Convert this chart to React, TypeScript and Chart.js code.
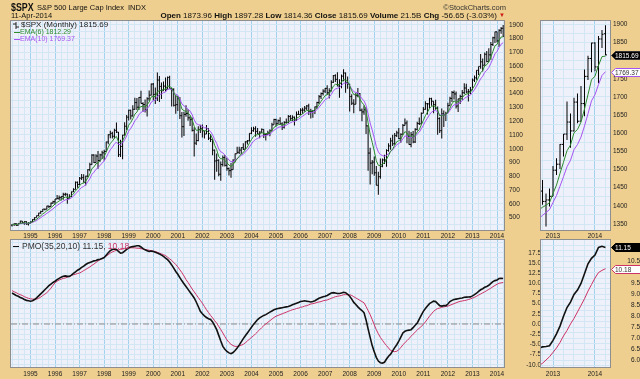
import React, { useEffect, useRef } from 'react';
import Chart from 'chart.js/auto';

// ---------------- DATA: $SPX monthly bars, Apr 1994 .. Apr 2014 ----------------
const FIRST_YEAR = 1994;
const FIRST_MONTH = 4;

const OPEN = [
  445.8, 450.9, 456.5, 444.3, 458.3, 475.5, 462.7, 472.4, 453.7,
  459.3, 470.4, 487.4, 500.7, 514.7, 533.4, 544.8, 562.1, 561.9, 584.4, 581.5, 605.4,
  615.9, 636.0, 640.4, 645.5, 654.2, 669.1, 670.6, 639.9, 652.0, 687.3, 705.3, 757.0,
  740.7, 786.2, 790.8, 757.1, 801.3, 848.3, 885.1, 954.3, 899.5, 947.3, 914.6, 955.4,
  970.4, 980.3, 1049.3, 1101.8, 1111.8, 1090.8, 1133.8, 1120.7, 957.3, 1017.0, 1098.7, 1163.6,
  1229.2, 1279.6, 1238.3, 1286.4, 1335.2, 1301.8, 1372.7, 1328.7, 1320.4, 1282.7, 1362.9, 1388.9,
  1469.3, 1394.5, 1366.4, 1498.6, 1452.4, 1420.6, 1454.6, 1430.8, 1517.7, 1436.5, 1429.4, 1315.2,
  1320.3, 1366.0, 1239.9, 1160.3, 1249.5, 1255.8, 1224.4, 1211.2, 1133.6, 1040.9, 1059.8, 1139.5,
  1148.1, 1130.2, 1106.7, 1147.4, 1076.9, 1067.1, 989.8, 911.6, 916.1, 815.3, 885.8, 936.3,
  879.8, 855.7, 841.2, 848.2, 916.9, 963.6, 974.5, 990.3, 1008.0, 996.0, 1050.7, 1058.2,
  1111.9, 1131.1, 1144.9, 1126.2, 1107.3, 1120.7, 1140.8, 1101.7, 1104.2, 1114.6, 1130.2, 1173.8,
  1211.9, 1181.3, 1203.6, 1180.6, 1156.9, 1191.5, 1191.3, 1234.2, 1220.3, 1228.8, 1207.0, 1249.5,
  1248.3, 1280.1, 1280.7, 1294.9, 1310.6, 1270.1, 1270.2, 1276.7, 1303.8, 1335.9, 1377.9, 1400.6,
  1418.3, 1438.2, 1406.8, 1420.9, 1482.4, 1530.6, 1503.4, 1455.3, 1474.0, 1526.8, 1549.4, 1481.1,
  1468.4, 1378.6, 1330.6, 1322.7, 1385.6, 1400.4, 1280.0, 1267.4, 1282.8, 1166.4, 968.8, 896.2,
  903.3, 825.9, 735.1, 797.9, 872.8, 919.1, 919.3, 987.5, 1020.6, 1057.1, 1036.2, 1095.6,
  1115.1, 1073.9, 1104.5, 1169.4, 1186.7, 1089.4, 1030.7, 1101.6, 1049.3, 1141.2, 1183.3, 1180.6,
  1257.6, 1286.1, 1327.2, 1325.8, 1363.6, 1345.2, 1320.6, 1292.3, 1218.9, 1131.4, 1253.3, 1247.0,
  1257.6, 1312.4, 1365.7, 1408.5, 1397.9, 1310.3, 1362.2, 1379.3, 1406.6, 1440.7, 1412.2, 1416.2,
  1426.2, 1498.1, 1514.7, 1569.2, 1597.6, 1630.7, 1606.3, 1685.7, 1633.0, 1681.6, 1756.5, 1805.8,
  1848.4, 1782.6, 1859.5, 1873.96,
];

const HIGH = [
  453.0, 457.6, 462.1, 459.3, 477.1, 476.1, 473.8, 474.7, 466.4,
  472.8, 489.2, 503.9, 515.3, 535.0, 551.1, 563.8, 565.6, 586.6, 587.2, 609.5, 622.9,
  636.2, 664.2, 661.4, 656.4, 681.1, 680.3, 675.9, 670.7, 690.9, 714.1, 762.1, 761.8,
  794.7, 817.7, 814.9, 804.2, 851.9, 898.7, 961.0, 960.3, 960.5, 983.1, 963.1, 986.3,
  992.7, 1051.2, 1105.7, 1130.5, 1123.0, 1145.2, 1190.6, 1121.0, 1066.1, 1102.0, 1193.0, 1244.9,
  1283.3, 1283.3, 1316.2, 1370.5, 1367.6, 1375.0, 1420.3, 1337.6, 1357.2, 1373.2, 1422.0, 1473.1,
  1478.0, 1444.6, 1552.9, 1527.2, 1481.5, 1488.9, 1517.3, 1525.2, 1530.1, 1441.5, 1438.5, 1389.1,
  1383.4, 1376.4, 1267.4, 1269.3, 1315.9, 1286.6, 1239.8, 1226.3, 1155.4, 1110.6, 1163.4, 1173.6,
  1176.6, 1130.2, 1173.0, 1147.8, 1106.6, 1070.7, 994.5, 965.0, 924.0, 907.4, 951.6, 954.3,
  935.1, 864.6, 895.9, 924.2, 965.4, 1015.3, 1015.4, 1011.0, 1040.3, 1053.8, 1063.7, 1112.6,
  1155.4, 1159.0, 1163.2, 1150.6, 1127.7, 1146.3, 1140.8, 1108.6, 1131.5, 1142.1, 1188.5, 1217.9,
  1217.8, 1212.4, 1229.1, 1191.9, 1199.6, 1219.6, 1245.2, 1245.9, 1243.1, 1233.3, 1270.6, 1275.8,
  1294.9, 1297.6, 1310.9, 1318.2, 1326.7, 1290.7, 1280.4, 1306.7, 1340.3, 1389.5, 1407.9, 1431.8,
  1441.6, 1461.6, 1438.9, 1498.0, 1535.6, 1540.6, 1555.9, 1503.9, 1538.7, 1576.1, 1552.8, 1523.6,
  1471.8, 1396.0, 1359.7, 1404.0, 1440.2, 1404.1, 1292.2, 1313.2, 1303.0, 1167.0, 1007.5, 918.9,
  943.9, 875.0, 833.0, 930.2, 930.2, 956.2, 996.7, 1039.5, 1080.2, 1101.4, 1113.7, 1130.4,
  1150.5, 1112.4, 1180.2, 1219.8, 1205.1, 1131.2, 1120.9, 1129.2, 1148.9, 1196.1, 1227.1, 1262.6,
  1302.7, 1344.1, 1332.3, 1370.6, 1370.6, 1345.2, 1356.5, 1307.4, 1229.3, 1292.7, 1277.6, 1269.4,
  1333.5, 1378.0, 1419.2, 1422.4, 1415.3, 1363.5, 1391.7, 1426.7, 1474.5, 1471.0, 1434.3, 1448.0,
  1509.9, 1530.9, 1570.3, 1597.6, 1687.2, 1654.2, 1698.0, 1709.7, 1730.0, 1775.2, 1813.6, 1849.4,
  1850.8, 1867.9, 1884.0, 1897.28,
];

const LOW = [
  435.9, 439.8, 442.0, 443.2, 454.2, 461.1, 449.6, 449.1, 442.9,
  457.6, 469.5, 481.5, 500.7, 509.7, 528.6, 543.0, 553.6, 560.9, 569.5, 580.5, 601.2,
  595.1, 633.4, 627.6, 624.1, 630.1, 657.8, 601.8, 638.8, 649.7, 687.1, 703.8, 716.7,
  737.0, 773.4, 756.1, 733.5, 793.2, 837.0, 884.5, 897.6, 899.5, 855.3, 905.9, 925.6,
  912.8, 980.3, 1032.8, 1076.7, 1074.4, 1074.4, 1114.3, 939.9, 939.9, 923.3, 1094.5, 1136.9,
  1205.5, 1211.9, 1234.0, 1282.6, 1281.4, 1281.6, 1328.7, 1268.4, 1263.2, 1233.7, 1346.3, 1387.4,
  1350.1, 1325.1, 1346.6, 1339.4, 1361.1, 1420.6, 1415.3, 1430.8, 1436.5, 1305.8, 1306.1, 1254.1,
  1274.6, 1215.4, 1081.2, 1092.0, 1232.0, 1203.0, 1165.5, 1124.9, 944.8, 1026.8, 1054.3, 1114.5,
  1081.7, 1074.4, 1106.7, 1063.5, 1049.0, 952.9, 775.7, 833.4, 800.2, 768.6, 872.2, 871.8,
  840.3, 806.3, 788.9, 847.8, 902.8, 963.6, 962.1, 960.8, 990.4, 996.0, 1031.2, 1053.4,
  1105.1, 1124.4, 1087.2, 1107.2, 1076.3, 1113.3, 1078.8, 1060.7, 1101.3, 1090.2, 1127.6, 1173.8,
  1163.8, 1180.0, 1176.9, 1136.2, 1146.2, 1188.3, 1183.6, 1201.1, 1201.1, 1168.2, 1201.1, 1246.6,
  1245.7, 1253.6, 1268.4, 1280.7, 1245.3, 1219.3, 1224.5, 1253.0, 1290.9, 1325.6, 1361.0, 1385.9,
  1404.0, 1389.4, 1364.0, 1416.4, 1476.7, 1484.2, 1454.3, 1370.6, 1439.3, 1489.6, 1406.1, 1435.7,
  1270.1, 1316.8, 1257.0, 1322.7, 1373.1, 1272.0, 1200.4, 1247.5, 1106.4, 839.8, 741.0, 815.7,
  804.3, 734.5, 666.8, 783.4, 866.1, 888.9, 869.3, 978.5, 992.3, 1020.0, 1029.4, 1085.9,
  1071.6, 1044.5, 1104.5, 1169.4, 1040.8, 1028.3, 1010.9, 1039.7, 1041.0, 1131.9, 1173.0, 1180.6,
  1257.6, 1282.9, 1249.1, 1294.7, 1311.8, 1258.1, 1282.9, 1101.5, 1114.2, 1074.8, 1158.7, 1202.4,
  1257.6, 1312.4, 1340.0, 1357.4, 1292.0, 1266.7, 1325.4, 1354.7, 1396.6, 1403.3, 1343.4, 1398.1,
  1426.2, 1485.0, 1501.5, 1536.0, 1581.3, 1560.3, 1604.6, 1627.5, 1633.0, 1646.5, 1746.2, 1768.0,
  1770.5, 1737.9, 1834.4, 1814.36,
];

const CLOSE = [
  450.9, 456.5, 444.3, 458.3, 475.5, 462.7, 472.4, 453.7, 459.3,
  470.4, 487.4, 500.7, 514.7, 533.4, 544.8, 562.1, 561.9, 584.4, 581.5, 605.4, 615.9,
  636.0, 640.4, 645.5, 654.2, 669.1, 670.6, 639.9, 652.0, 687.3, 705.3, 757.0, 740.7,
  786.2, 790.8, 757.1, 801.3, 848.3, 885.1, 954.3, 899.5, 947.3, 914.6, 955.4, 970.4,
  980.3, 1049.3, 1101.8, 1111.8, 1090.8, 1133.8, 1120.7, 957.3, 1017.0, 1098.7, 1163.6, 1229.2,
  1279.6, 1238.3, 1286.4, 1335.2, 1301.8, 1372.7, 1328.7, 1320.4, 1282.7, 1362.9, 1388.9, 1469.3,
  1394.5, 1366.4, 1498.6, 1452.4, 1420.6, 1454.6, 1430.8, 1517.7, 1436.5, 1429.4, 1315.2, 1320.3,
  1366.0, 1239.9, 1160.3, 1249.5, 1255.8, 1224.4, 1211.2, 1133.6, 1040.9, 1059.8, 1139.5, 1148.1,
  1130.2, 1106.7, 1147.4, 1076.9, 1067.1, 989.8, 911.6, 916.1, 815.3, 885.8, 936.3, 879.8,
  855.7, 841.2, 848.2, 916.9, 963.6, 974.5, 990.3, 1008.0, 996.0, 1050.7, 1058.2, 1111.9,
  1131.1, 1144.9, 1126.2, 1107.3, 1120.7, 1140.8, 1101.7, 1104.2, 1114.6, 1130.2, 1173.8, 1211.9,
  1181.3, 1203.6, 1180.6, 1156.9, 1191.5, 1191.3, 1234.2, 1220.3, 1228.8, 1207.0, 1249.5, 1248.3,
  1280.1, 1280.7, 1294.9, 1310.6, 1270.1, 1270.2, 1276.7, 1303.8, 1335.9, 1377.9, 1400.6, 1418.3,
  1438.2, 1406.8, 1420.9, 1482.4, 1530.6, 1503.4, 1455.3, 1474.0, 1526.8, 1549.4, 1481.1, 1468.4,
  1378.6, 1330.6, 1322.7, 1385.6, 1400.4, 1280.0, 1267.4, 1282.8, 1166.4, 968.8, 896.2, 903.3,
  825.9, 735.1, 797.9, 872.8, 919.1, 919.3, 987.5, 1020.6, 1057.1, 1036.2, 1095.6, 1115.1,
  1073.9, 1104.5, 1169.4, 1186.7, 1089.4, 1030.7, 1101.6, 1049.3, 1141.2, 1183.3, 1180.6, 1257.6,
  1286.1, 1327.2, 1325.8, 1363.6, 1345.2, 1320.6, 1292.3, 1218.9, 1131.4, 1253.3, 1247.0, 1257.6,
  1312.4, 1365.7, 1408.5, 1397.9, 1310.3, 1362.2, 1379.3, 1406.6, 1440.7, 1412.2, 1416.2, 1426.2,
  1498.1, 1514.7, 1569.2, 1597.6, 1630.7, 1606.3, 1685.7, 1633.0, 1681.6, 1756.5, 1805.8, 1848.4,
  1782.6, 1859.5, 1872.3, 1815.69,
];

// PMO(35,20,10) and its signal line
const PMO = [
  7.6, 7.3, 7.0, 6.8, 6.5, 6.3, 6.0, 5.8, 5.7,
  5.6, 5.7, 6.0, 6.4, 6.9, 7.4, 7.9, 8.4, 8.9, 9.4, 9.8, 10.2,
  10.5, 10.9, 11.2, 11.5, 11.7, 11.8, 11.7, 11.7, 12.0, 12.4, 12.8, 13.2,
  13.5, 13.9, 14.2, 14.6, 14.9, 15.1, 15.3, 15.5, 15.6, 15.8, 15.9, 16.1,
  16.3, 16.9, 17.5, 18.0, 18.3, 18.4, 18.3, 17.8, 17.4, 17.5, 17.9, 18.3,
  18.7, 18.9, 19.0, 19.1, 19.2, 19.2, 18.9, 18.5, 18.2, 18.0, 17.8, 17.9,
  17.8, 17.6, 17.4, 17.2, 16.9, 16.6, 16.2, 15.8, 15.2, 14.5, 13.7, 12.9,
  12.2, 11.4, 10.6, 9.9, 9.2, 8.5, 7.8, 7.1, 6.4, 5.4, 4.3, 3.1,
  2.5, 2.0, 1.6, 1.3, 1.1, 0.5, -0.4, -1.4, -2.8, -4.2, -5.5, -6.2,
  -6.7, -7.1, -7.3, -7.0, -6.5, -5.9, -5.2, -4.4, -3.6, -2.9, -2.2, -1.5,
  -0.8, -0.1, 0.5, 1.1, 1.5, 1.8, 2.1, 2.3, 2.6, 2.9, 3.2, 3.5,
  3.7, 3.8, 3.9, 4.0, 4.1, 4.2, 4.3, 4.5, 4.7, 4.9, 5.1, 5.3,
  5.5, 5.6, 5.7, 5.6, 5.5, 5.4, 5.5, 5.7, 6.0, 6.3, 6.5, 6.7,
  6.8, 7.0, 7.3, 7.6, 7.7, 7.6, 7.5, 7.5, 7.6, 7.8, 7.7, 7.3,
  6.8, 6.1, 5.3, 4.8, 4.2, 3.7, 3.3, 2.8, 1.0, -1.2, -3.3, -5.3,
  -6.8, -8.2, -9.1, -9.5, -9.6, -9.4, -8.6, -7.9, -7.4, -6.6, -5.8, -5.1,
  -4.2, -3.2, -2.2, -1.8, -1.6, -1.5, -1.4, -0.9, -0.3, 0.2, 1.2, 2.2,
  3.1, 3.8, 4.4, 5.0, 5.3, 5.6, 5.5, 5.0, 4.5, 4.4, 4.5, 4.5,
  4.9, 5.5, 5.8, 6.0, 6.1, 6.2, 6.3, 6.4, 6.55, 6.6, 6.62, 6.65,
  6.9, 7.2, 7.55, 8.0, 8.4, 8.65, 9.0, 9.2, 9.5, 9.95, 10.4, 10.65,
  10.8, 11.15, 11.2, 11.15,
];

const PMO_SIGNAL = [
  8.2, 7.9, 7.7, 7.4, 7.2, 7.0, 6.7, 6.5, 6.3,
  6.2, 6.1, 6.1, 6.1, 6.3, 6.6, 7.0, 7.3, 7.7, 8.2, 8.8, 9.5,
  10.1, 10.5, 10.8, 11.0, 11.2, 11.3, 11.5, 11.7, 11.9, 12.1, 12.2, 12.4,
  12.5, 12.8, 13.1, 13.4, 13.7, 14.0, 14.4, 14.7, 15.1, 15.5, 15.8, 16.1,
  16.4, 16.7, 17.0, 17.4, 17.7, 17.9, 18.1, 18.2, 18.3, 18.4, 18.5, 18.6,
  18.6, 18.7, 18.7, 18.7, 18.6, 18.6, 18.5, 18.4, 18.3, 18.2, 18.1, 18.0,
  17.9, 17.8, 17.6, 17.4, 17.2, 17.0, 16.8, 16.4, 16.0, 15.6, 15.1, 14.6,
  14.0, 13.3, 12.6, 11.8, 10.9, 10.2, 9.4, 8.6, 7.9, 7.2, 6.5, 5.8,
  5.1, 4.3, 3.5, 2.8, 2.1, 1.5, 0.8, 0.2, -0.6, -1.4, -2.2, -3.1,
  -3.9, -4.5, -5.0, -5.3, -5.5, -5.5, -5.4, -5.2, -5.0, -4.6, -4.2, -3.7,
  -3.3, -2.9, -2.4, -1.9, -1.4, -0.9, -0.4, 0.0, 0.4, 0.8, 1.2, 1.6,
  1.9, 2.1, 2.3, 2.5, 2.7, 2.9, 3.1, 3.3, 3.5, 3.6, 3.8, 3.9,
  4.1, 4.2, 4.4, 4.5, 4.7, 4.9, 5.0, 5.1, 5.3, 5.4, 5.5, 5.7,
  5.8, 5.9, 6.1, 6.3, 6.5, 6.7, 6.8, 6.9, 7.0, 7.2, 7.2, 7.2,
  7.2, 7.0, 6.7, 6.4, 6.1, 5.8, 5.5, 5.2, 4.3, 3.3, 2.3, 1.1,
  -0.2, -1.4, -2.4, -3.3, -4.0, -4.7, -5.3, -5.9, -6.5, -6.7, -6.8, -6.7,
  -6.3, -5.8, -5.1, -4.6, -4.1, -3.6, -3.0, -2.5, -2.0, -1.5, -1.0, -0.6,
  -0.1, 0.5, 1.2, 1.9, 2.5, 3.1, 3.5, 3.8, 3.9, 4.1, 4.2, 4.3,
  4.4, 4.6, 4.8, 5.0, 5.2, 5.4, 5.55, 5.65, 5.75, 5.85, 6.0, 6.15,
  6.35, 6.55, 6.8, 7.1, 7.35, 7.65, 7.9, 8.2, 8.5, 8.8, 9.15, 9.45,
  9.75, 10.0, 10.1, 10.18,
];

// tick labels
const YEAR_LABELS = ['1995', '1996', '1997', '1998', '1999', '2000', '2001', '2002', '2003', '2004',
  '2005', '2006', '2007', '2008', '2009', '2010', '2011', '2012', '2013', '2014'];
const PRICE_TICKS = [500, 600, 700, 800, 900, 1000, 1100, 1200, 1300, 1400, 1500, 1600, 1700, 1800, 1900];
const SIDE_PRICE_TICKS = [1350, 1400, 1450, 1500, 1550, 1600, 1650, 1700, 1750, 1850, 1900];
const PMO_TICKS = [-10, -7.5, -5, -2.5, 0, 2.5, 5, 7.5, 10, 12.5, 15, 17.5];
const SIDE_PMO_TICKS = [6, 6.5, 7, 7.5, 8, 8.5, 9, 9.5, 10.5];

// last values shown in legends / tags
const LAST_CLOSE = 1815.69;
const LAST_EMA6 = 1812.29;
const LAST_EMA10 = 1769.37;
const LAST_PMO = 11.15;
const LAST_SIGNAL = 10.18;

// ---------------- helpers ----------------
const monthIndex = (year: number, month: number) => (year - FIRST_YEAR) * 12 + (month - FIRST_MONTH);

function ema(values: number[], period: number): number[] {
  const k = 2 / (period + 1);
  const out: number[] = [];
  values.forEach((v, i) => out.push(i === 0 ? v : out[i - 1] + k * (v - out[i - 1])));
  return out;
}
const EMA6 = ema(CLOSE, 6);
const EMA10 = ema(CLOSE, 10);

function steps(from: number, to: number, step: number): number[] {
  const out: number[] = [];
  const n = Math.round((to - from) / step);
  for (let i = 0; i <= n; i++) out.push(+(from + i * step).toFixed(4));
  return out;
}

const YEAR_AT = new Map<number, string>(YEAR_LABELS.map((y) => [monthIndex(+y, 1), y]));

// ---------------- styling / layout ----------------
const W = 640;
const H = 379;
const TAN = '#EFCF8F';
const PLOT_BG = '#EFF1FA';
const GRID_MINOR = '#D2E6F3';
const GRID_MAJOR = '#A3D2EE';
const FRAME = '#8E8E8E';
const BAR = '#000000';
const GREEN = '#2E8B2E';
const PURPLE = '#A555F2';
const CRIMSON = '#CC3366';
const FONT = "'Liberation Sans', Arial, sans-serif";
const TICK_FONT = { family: FONT, size: 6.5 };

type Rect = { l: number; t: number; r: number; b: number };
const MAIN: Rect = { l: 11, t: 21, r: 504, b: 230 };
const SIDE: Rect = { l: 541, t: 21, r: 610, b: 230 };
const MAIN_PMO: Rect = { l: 11, t: 240, r: 504, b: 367 };
const SIDE_PMO: Rect = { l: 541, t: 240, r: 610, b: 367 };

const MAIN_X = [-0.53, 240.42];
const SIDE_X = [221.57, 241.29];
const MAIN_Y = [410.7, 1927];
const SIDE_Y = [1333.5, 1909];
const PMO_Y = [-10.56, 20.62];
const SIDE_PMO_Y = [5.68, 11.49];

type Tag = { value: number; text: string; fill: string; stroke: string; color: string };

const framePlugin = {
  id: 'frame',
  beforeDraw(chart: any) {
    const { ctx, chartArea: a } = chart;
    ctx.save();
    ctx.fillStyle = PLOT_BG;
    ctx.fillRect(a.left, a.top, a.right - a.left, a.bottom - a.top);
    ctx.restore();
  },
  afterDraw(chart: any) {
    const { ctx, chartArea: a } = chart;
    ctx.save();
    ctx.strokeStyle = FRAME;
    ctx.lineWidth = 1;
    ctx.strokeRect(Math.round(a.left) - 0.5, Math.round(a.top) - 0.5, Math.round(a.right - a.left) + 1, Math.round(a.bottom - a.top) + 1);
    ctx.restore();
  },
};

function tagPlugin(tags: Tag[]) {
  return {
    id: 'tags',
    afterDraw(chart: any) {
      const { ctx, chartArea: a, scales } = chart;
      ctx.save();
      ctx.font = `6.5px ${FONT}`;
      for (const t of tags) {
        const y = Math.round(scales.y.getPixelForValue(t.value)) + 0.5;
        const x0 = Math.round(a.right) + 1.5;
        const hh = 4;
        ctx.beginPath();
        ctx.moveTo(x0, y);
        ctx.lineTo(x0 + 4, y - hh);
        ctx.lineTo(W + 2, y - hh);
        ctx.lineTo(W + 2, y + hh);
        ctx.lineTo(x0 + 4, y + hh);
        ctx.closePath();
        ctx.fillStyle = t.fill;
        ctx.fill();
        ctx.strokeStyle = t.stroke;
        ctx.lineWidth = 1;
        ctx.stroke();
        ctx.fillStyle = t.color;
        ctx.textAlign = 'left';
        ctx.textBaseline = 'middle';
        ctx.fillText(t.text, x0 + 3.5, y + 0.5);
      }
      ctx.restore();
    },
  };
}

interface PanelOpts {
  type: 'bar' | 'line';
  rect: Rect;
  xr: number[];
  yr: number[];
  axisW: number;
  xGrid: number[];
  yGrid: number[];
  yLabels: number[];
  yDecimals: number;
  yAlign: 'near' | 'far';
  yPad: number;
  xPad: number;
  datasets: any[];
  tags: Tag[];
}

const AXIS_H = 10;

function panelConfig(o: PanelOpts): any {
  const xGrid = o.xGrid.filter((v) => v >= o.xr[0] && v <= o.xr[1]);
  const yGrid = o.yGrid.filter((v) => v >= o.yr[0] && v <= o.yr[1]);
  return {
    type: o.type,
    data: { datasets: o.datasets },
    options: {
      animation: false,
      responsive: false,
      maintainAspectRatio: false,
      devicePixelRatio: 1,
      events: [],
      layout: {
        padding: { left: o.rect.l, top: o.rect.t, right: W - o.rect.r - o.axisW, bottom: H - o.rect.b - AXIS_H },
      },
      plugins: { legend: { display: false }, tooltip: { enabled: false }, title: { display: false } },
      scales: {
        x: {
          type: 'linear',
          position: 'bottom',
          min: o.xr[0],
          max: o.xr[1],
          offset: false,
          afterBuildTicks: (s: any) => { s.ticks = xGrid.map((v) => ({ value: v })); },
          afterFit: (s: any) => { s.height = AXIS_H; },
          grid: {
            offset: false,
            drawTicks: false,
            lineWidth: 1,
            color: (c: any) => (c.tick && YEAR_AT.has(c.tick.value) ? GRID_MAJOR : GRID_MINOR),
          },
          border: { display: false },
          ticks: {
            autoSkip: false,
            maxRotation: 0,
            minRotation: 0,
            padding: o.xPad,
            color: '#222',
            font: TICK_FONT,
            callback: (v: any) => YEAR_AT.get(Number(v)) ?? '',
          },
        },
        y: {
          type: 'linear',
          position: 'right',
          min: o.yr[0],
          max: o.yr[1],
          afterBuildTicks: (s: any) => { s.ticks = yGrid.map((v) => ({ value: v })); },
          afterFit: (s: any) => { s.width = o.axisW; },
          grid: { drawTicks: false, lineWidth: 1, color: GRID_MINOR },
          border: { display: false },
          ticks: {
            autoSkip: false,
            padding: o.yPad,
            crossAlign: o.yAlign,
            color: '#222',
            font: TICK_FONT,
            callback: (v: any) => {
              const hit = o.yLabels.find((l) => Math.abs(l - Number(v)) < 1e-6);
              return hit === undefined ? '' : hit.toFixed(o.yDecimals);
            },
          },
        },
      },
    },
    plugins: [framePlugin, tagPlugin(o.tags)],
  };
}

function priceDatasets(tickOffset: number, tickRadius: number): any[] {
  return [
    { type: 'line', label: 'EMA(6)', data: EMA6.map((v, i) => ({ x: i, y: v })), borderColor: GREEN, borderWidth: 1, pointRadius: 0, tension: 0, order: 0 },
    { type: 'line', label: 'EMA(10)', data: EMA10.map((v, i) => ({ x: i, y: v })), borderColor: PURPLE, borderWidth: 1, pointRadius: 0, tension: 0, order: 0 },
    {
      type: 'line', label: 'Open', data: OPEN.map((v, i) => ({ x: i - tickOffset, y: v })), showLine: false,
      pointStyle: 'line', pointRadius: tickRadius, pointBorderWidth: 1, pointBorderColor: BAR, pointBackgroundColor: BAR, order: 1,
    },
    {
      type: 'line', label: 'Close', data: CLOSE.map((v, i) => ({ x: i + tickOffset, y: v })), showLine: false,
      pointStyle: 'line', pointRadius: tickRadius, pointBorderWidth: 1, pointBorderColor: BAR, pointBackgroundColor: BAR, order: 1,
    },
    {
      type: 'bar', label: '$SPX', data: LOW.map((l, i) => ({ x: i, y: [l, HIGH[i]] })), backgroundColor: BAR,
      borderWidth: 0, barThickness: 1, inflateAmount: 0, grouped: false, order: 2,
    },
  ];
}

function pmoDatasets(withZero: boolean): any[] {
  const ds: any[] = [
    { type: 'line', label: 'PMO', data: PMO.map((v, i) => ({ x: i, y: v })), borderColor: '#111', borderWidth: 1.6, pointRadius: 0, tension: 0, order: 0 },
    { type: 'line', label: 'Signal', data: PMO_SIGNAL.map((v, i) => ({ x: i, y: v })), borderColor: CRIMSON, borderWidth: 1, pointRadius: 0, tension: 0, order: 1 },
  ];
  if (withZero) {
    ds.push({
      type: 'line', label: 'zero', data: [{ x: MAIN_X[0], y: 0 }, { x: MAIN_X[1], y: 0 }],
      borderColor: '#8A8A8A', borderWidth: 1, borderDash: [6, 2, 1, 2], pointRadius: 0, order: 2,
    });
  }
  return ds;
}

const QUARTERS = steps(0, 240, 3);

// ---------------- text helpers ----------------
function Txt(props: {
  x: number; y: number; size?: number; color?: string; bold?: boolean; right?: boolean;
  children: React.ReactNode; style?: React.CSSProperties;
}) {
  const size = props.size ?? 8;
  const style: React.CSSProperties = {
    position: 'absolute',
    top: props.y - size * 0.6,
    fontSize: size,
    lineHeight: `${size * 1.2}px`,
    color: props.color ?? '#111',
    fontWeight: props.bold ? 700 : 400,
    whiteSpace: 'nowrap',
    fontFamily: FONT,
    ...(props.right ? { right: W - props.x } : { left: props.x }),
    ...props.style,
  };
  return <div style={style}>{props.children}</div>;
}

function Dash({ x, y, color, w = 6 }: { x: number; y: number; color: string; w?: number }) {
  return <div style={{ position: 'absolute', left: x, top: y - 0.5, width: w, height: 1.4, background: color }} />;
}

export default function App() {
  const refMain = useRef<HTMLCanvasElement>(null);
  const refSide = useRef<HTMLCanvasElement>(null);
  const refPmo = useRef<HTMLCanvasElement>(null);
  const refSidePmo = useRef<HTMLCanvasElement>(null);

  useEffect(() => {
    const charts: Chart[] = [];
    charts.push(new Chart(refMain.current!, panelConfig({
      type: 'bar', rect: MAIN, xr: MAIN_X, yr: MAIN_Y, axisW: 37,
      xGrid: QUARTERS, yGrid: steps(400, 1950, 50), yLabels: PRICE_TICKS, yDecimals: 0,
      yAlign: 'near', yPad: 5, xPad: 2,
      datasets: priceDatasets(0.25, 0.5), tags: [],
    })));
    charts.push(new Chart(refSide.current!, panelConfig({
      type: 'bar', rect: SIDE, xr: SIDE_X, yr: SIDE_Y, axisW: 30,
      xGrid: QUARTERS, yGrid: steps(1325, 1925, 25), yLabels: SIDE_PRICE_TICKS, yDecimals: 0,
      yAlign: 'near', yPad: 3, xPad: 2,
      datasets: priceDatasets(0.22, 0.75),
      tags: [
        { value: LAST_CLOSE, text: LAST_CLOSE.toFixed(2), fill: '#000', stroke: '#333', color: '#fff' },
        { value: LAST_EMA10, text: LAST_EMA10.toFixed(2), fill: '#fff', stroke: PURPLE, color: '#333' },
      ],
    })));
    charts.push(new Chart(refPmo.current!, panelConfig({
      type: 'line', rect: MAIN_PMO, xr: MAIN_X, yr: PMO_Y, axisW: 37,
      xGrid: QUARTERS, yGrid: steps(-11.25, 21.25, 1.25), yLabels: PMO_TICKS, yDecimals: 1,
      yAlign: 'far', yPad: 1, xPad: 3,
      datasets: pmoDatasets(true), tags: [],
    })));
    charts.push(new Chart(refSidePmo.current!, panelConfig({
      type: 'line', rect: SIDE_PMO, xr: SIDE_X, yr: SIDE_PMO_Y, axisW: 30,
      xGrid: QUARTERS, yGrid: steps(5.5, 11.75, 0.25), yLabels: SIDE_PMO_TICKS, yDecimals: 1,
      yAlign: 'far', yPad: 3, xPad: 3,
      datasets: pmoDatasets(false),
      tags: [
        { value: LAST_PMO, text: LAST_PMO.toFixed(2), fill: '#000', stroke: '#000', color: '#fff' },
        { value: LAST_SIGNAL, text: LAST_SIGNAL.toFixed(2), fill: '#fff', stroke: CRIMSON, color: '#333' },
      ],
    })));
    return () => charts.forEach((c) => c.destroy());
  }, []);

  const canvasStyle: React.CSSProperties = { position: 'absolute', left: 0, top: 0, width: W, height: H };

  return (
    <div style={{ position: 'fixed', left: 0, top: 0, width: W, height: H, background: TAN, overflow: 'hidden', fontFamily: FONT }}>
      <canvas ref={refMain} width={W} height={H} style={canvasStyle} />
      <canvas ref={refSide} width={W} height={H} style={canvasStyle} />
      <canvas ref={refPmo} width={W} height={H} style={canvasStyle} />
      <canvas ref={refSidePmo} width={W} height={H} style={canvasStyle} />

      {/* header */}
      <Txt x={11} y={7.5} size={11} bold style={{ transform: 'scaleX(0.8)', transformOrigin: 'left center' }}>$SPX</Txt>
      <Txt x={37} y={7.5} size={7.5}>
        S&amp;P 500 Large Cap Index<span style={{ marginLeft: 4 }}>INDX</span>
      </Txt>
      <Txt x={506} y={7.5} size={7.5} color="#333" right>©StockCharts.com</Txt>
      <Txt x={11} y={15.5} size={7.5}>11-Apr-2014</Txt>
      <Txt x={497} y={15.5} size={8} right>
        <b>Open</b> 1873.96 <b>High</b> 1897.28 <b>Low</b> 1814.36 <b>Close</b> 1815.69 <b>Volume</b> 21.5B <b>Chg</b> -56.65 (-3.03%)
      </Txt>
      <Txt x={499} y={15.5} size={6} color="#D01818">▼</Txt>

      {/* price legend */}
      <svg style={{ position: 'absolute', left: 13, top: 21.5 }} width={6} height={7}>
        <line x1={3} y1={0} x2={3} y2={7} stroke="#222" strokeWidth={1} />
        <line x1={0} y1={2} x2={3} y2={2} stroke="#222" strokeWidth={1} />
        <line x1={3} y1={5} x2={6} y2={5} stroke="#222" strokeWidth={1} />
      </svg>
      <Txt x={21} y={24.5} size={8} color="#222">$SPX (Monthly) {LAST_CLOSE.toFixed(2)}</Txt>
      <Dash x={14} y={32.5} color={GREEN} w={6} />
      <Txt x={20} y={32.5} size={7} color={GREEN}>EMA(6) {LAST_EMA6.toFixed(2)}</Txt>
      <Dash x={14} y={39.5} color={PURPLE} w={6} />
      <Txt x={20} y={39.5} size={7} color={PURPLE}>EMA(10) {LAST_EMA10.toFixed(2)}</Txt>

      {/* PMO legend */}
      <Dash x={13} y={246.3} color="#111" w={6} />
      <Txt x={22} y={246.3} size={8.5} color="#333">
        PMO(35,20,10) {LAST_PMO.toFixed(2)}, <span style={{ color: CRIMSON }}>{LAST_SIGNAL.toFixed(2)}</span>
      </Txt>
    </div>
  );
}
